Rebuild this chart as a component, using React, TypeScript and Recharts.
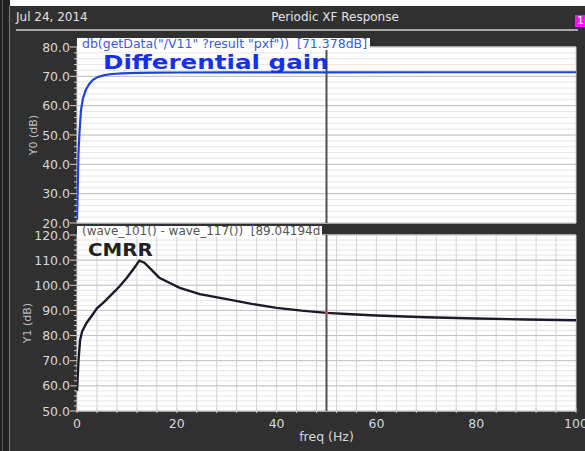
import React from "react";
import {
  LineChart,
  Line,
  XAxis,
  YAxis,
  CartesianGrid,
  ReferenceLine,
  ReferenceDot,
} from "recharts";

// ---------- data ----------
const gainFreq = [0, 0.15, 0.3, 0.5, 0.8, 1.2, 1.8, 2.5, 3.2, 4.2, 5.5, 7, 9, 12, 16, 20, 30, 50, 70, 100];
const gainDb = [21, 32, 44, 51, 58.5, 62.5, 65.5, 67.5, 68.8, 69.8, 70.4, 70.8, 71.0, 71.15, 71.25, 71.3, 71.35, 71.378, 71.39, 71.4];

const cmrrFreq = [0, 0.15, 0.3, 0.6, 1.0, 1.9, 3, 4, 5.5, 7, 8.5, 10, 11.5, 12.5, 13.5, 15, 16.5, 18.5, 20.6, 24.6, 30, 35, 40, 45, 50, 55, 60, 70, 80, 90, 100];
const cmrrDb = [58, 64, 70, 78, 81.5, 85, 88, 90.8, 93.5, 96.5, 99.5, 103, 107, 109.8, 109, 106, 103, 101, 99, 96.5, 94.5, 92.6, 91, 89.9, 89.04, 88.5, 88, 87.3, 86.8, 86.4, 86.1];

const xTicks = [0, 4, 8, 12, 16, 20, 24, 28, 32, 36, 40, 44, 48, 52, 56, 60, 64, 68, 72, 76, 80, 84, 88, 92, 96, 100];
const xLabelTicks = [0, 20, 40, 60, 80, 100];
const gainMajor = [20, 30, 40, 50, 60, 70, 80];
const gainMinor = [20, 22, 24, 26, 28, 30, 32, 34, 36, 38, 40, 42, 44, 46, 48, 50, 52, 54, 56, 58, 60, 62, 64, 66, 68, 70, 72, 74, 76, 78, 80];
const cmrrMajor = [50, 60, 70, 80, 90, 100, 110, 120];
const cmrrMinor = [50, 52, 54, 56, 58, 60, 62, 64, 66, 68, 70, 72, 74, 76, 78, 80, 82, 84, 86, 88, 90, 92, 94, 96, 98, 100, 102, 104, 106, 108, 110, 112, 114, 116, 118, 120];
const cursorFreq = 50;
const cursorCmrr = 89.04194;

const gainData = gainFreq.map((f, i) => ({ f, v: gainDb[i] }));
const cmrrData = cmrrFreq.map((f, i) => ({ f, v: cmrrDb[i] }));

const FONT = "DejaVu Sans";
const TXT = "#d6d6d6";

const makeYTick = (majors: number[]) => (props: any) => {
  const { x, y, payload } = props;
  const major = majors.includes(payload.value);
  return (
    <g>
      <line x1={x - (major ? 7 : 3)} x2={x} y1={y} y2={y} stroke="#cfcfcf" strokeWidth={1} />
      {major && (
        <text x={x - 7} y={y} dy={4.5} textAnchor="end" fill={TXT} fontSize={12.5} fontFamily={FONT}>
          {Number(payload.value).toFixed(1)}
        </text>
      )}
    </g>
  );
};

const XTick = (props: any) => {
  const { x, y, payload } = props;
  const major = xLabelTicks.includes(payload.value);
  return (
    <g>
      <line x1={x} x2={x} y1={y - 3} y2={y + 2} stroke="#cfcfcf" strokeWidth={1} />
      {major && (
        <text x={x} y={y + 17} textAnchor="middle" fill={TXT} fontSize={12.5} fontFamily={FONT}>
          {payload.value}
        </text>
      )}
    </g>
  );
};

const makeYLabel = (text: string, dx: number) => (props: any) => {
  const vb = props.viewBox || {};
  const cx = (vb.x || 0) + dx;
  const cy = (vb.y || 0) + (vb.height || 0) / 2;
  return (
    <text
      x={cx}
      y={cy}
      transform={`rotate(-90 ${cx} ${cy})`}
      textAnchor="middle"
      dominantBaseline="central"
      fill="#bdbdbd"
      fontSize={11}
      fontFamily={FONT}
    >
      {text}
    </text>
  );
};

const renderXLabel = (props: any) => {
  const vb = props.viewBox || {};
  return (
    <text
      x={(vb.x || 0) + (vb.width || 0) / 2}
      y={(vb.y || 0) + 30}
      textAnchor="middle"
      fill={TXT}
      fontSize={12.5}
      fontFamily={FONT}
    >
      freq (Hz)
    </text>
  );
};

export default function App() {
  return (
    <div
      style={{
        position: "absolute",
        left: 0,
        top: 0,
        width: 585,
        height: 451,
        background: "#303030",
        overflow: "hidden",
        fontFamily: FONT,
      }}
    >
      {/* window chrome */}
      <div style={{ position: "absolute", left: 0, top: 0, width: 10, height: 451, background: "#222" }} />
      <div style={{ position: "absolute", left: 2, top: 0, width: 1, height: 451, background: "#5a5a5a" }} />
      <div style={{ position: "absolute", left: 9, top: 6, width: 1, height: 445, background: "#7a7a7a" }} />
      <div style={{ position: "absolute", left: 10, top: 0, width: 575, height: 6, background: "#fff" }} />

      {/* header */}
      <div style={{ position: "absolute", left: 16, top: 10, color: "#e2e2e2", fontSize: 12, lineHeight: "14px" }}>
        Jul 24, 2014
      </div>
      <div
        style={{
          position: "absolute",
          left: 0,
          width: 670,
          top: 10,
          textAlign: "center",
          color: "#e2e2e2",
          fontSize: 12,
          lineHeight: "14px",
        }}
      >
        Periodic XF Response
      </div>
      <div
        style={{
          position: "absolute",
          left: 575,
          top: 15,
          width: 12,
          height: 12,
          background: "#ff10ff",
          color: "#fff",
          fontSize: 11,
          lineHeight: "12px",
          paddingLeft: 2,
        }}
      >
        1
      </div>
      <div style={{ position: "absolute", left: 16, top: 29, width: 562, height: 1.5, background: "#a8a8a8" }} />

      {/* plot 1 */}
      <div style={{ position: "absolute", left: 0, top: 0 }}>
        <LineChart width={585} height={230} data={gainData} margin={{ top: 47, right: 9, bottom: 7, left: 0 }}>
          <CartesianGrid vertical={false} stroke="#e6e6e6" fill="#ffffff" />
          <CartesianGrid horizontal={false} stroke="#d2d2d2" />
          <XAxis
            type="number"
            dataKey="f"
            domain={[0, 100]}
            ticks={xTicks}
            interval={0}
            height={0}
            tick={false}
            axisLine={false}
            tickLine={false}
          />
          <YAxis
            type="number"
            domain={[20, 80]}
            ticks={gainMinor}
            interval={0}
            width={77}
            tickSize={0}
            tickMargin={0}
            axisLine={false}
            tickLine={false}
            tick={makeYTick(gainMajor)}
            label={makeYLabel("Y0 (dB)", 33)}
          />
          {gainMajor.map((v) => (
            <ReferenceLine key={v} y={v} stroke="#c2c2c2" strokeWidth={1} />
          ))}
          <ReferenceLine x={cursorFreq} stroke="#505050" strokeWidth={2} />
          <Line
            type="linear"
            dataKey="v"
            stroke="#2040e0"
            strokeWidth={2.2}
            dot={false}
            isAnimationActive={false}
          />
        </LineChart>
      </div>

      {/* plot 2 */}
      <div style={{ position: "absolute", left: 0, top: 228 }}>
        <LineChart width={585} height={223} data={cmrrData} margin={{ top: 7, right: 9, bottom: 0, left: 0 }}>
          <CartesianGrid vertical={false} stroke="#e6e6e6" fill="#ffffff" />
          <CartesianGrid horizontal={false} stroke="#d2d2d2" />
          <XAxis
            type="number"
            dataKey="f"
            domain={[0, 100]}
            ticks={xTicks}
            interval={0}
            height={40}
            tickSize={0}
            tickMargin={0}
            axisLine={false}
            tickLine={false}
            tick={XTick}
            label={renderXLabel}
          />
          <YAxis
            type="number"
            domain={[50, 120]}
            ticks={cmrrMinor}
            interval={0}
            width={77}
            tickSize={0}
            tickMargin={0}
            axisLine={false}
            tickLine={false}
            tick={makeYTick(cmrrMajor)}
            label={makeYLabel("Y1 (dB)", 27)}
          />
          {cmrrMajor.map((v) => (
            <ReferenceLine key={v} y={v} stroke="#c2c2c2" strokeWidth={1} />
          ))}
          <ReferenceLine x={cursorFreq} stroke="#505050" strokeWidth={2} />
          <Line
            type="linear"
            dataKey="v"
            stroke="#1a1a2a"
            strokeWidth={2.4}
            dot={false}
            isAnimationActive={false}
          />
          <ReferenceDot x={cursorFreq} y={cursorCmrr} r={1.6} fill="#e04848" stroke="none" />
        </LineChart>
      </div>

      {/* trace labels */}
      <div
        style={{
          position: "absolute",
          left: 77,
          top: 38,
          height: 12,
          background: "#fff",
          color: "#3a5ae0",
          fontSize: 12.5,
          lineHeight: "12px",
          padding: "0 3px 0 5px",
          whiteSpace: "pre",
        }}
      >
        {'db(getData("/V11" ?result "pxf"))  [71.378dB]'}
      </div>
      <div
        style={{
          position: "absolute",
          left: 103,
          top: 52,
          color: "#1432e8",
          fontSize: 20,
          fontWeight: "bold",
          lineHeight: "20px",
          transform: "scaleX(1.23)",
          transformOrigin: "left center",
          whiteSpace: "pre",
        }}
      >
        Differential gain
      </div>
      <div
        style={{
          position: "absolute",
          left: 77,
          top: 226,
          height: 11,
          background: "#fff",
          color: "#555",
          fontSize: 12,
          lineHeight: "11px",
          padding: "0 2px 0 5px",
          whiteSpace: "pre",
        }}
      >
        {"(wave_101() - wave_117())  [89.04194d"}
      </div>
      <div
        style={{
          position: "absolute",
          left: 88,
          top: 240,
          color: "#222",
          fontSize: 18,
          fontWeight: "bold",
          lineHeight: "20px",
          transform: "scaleX(1.1)",
          transformOrigin: "left center",
        }}
      >
        CMRR
      </div>
    </div>
  );
}
